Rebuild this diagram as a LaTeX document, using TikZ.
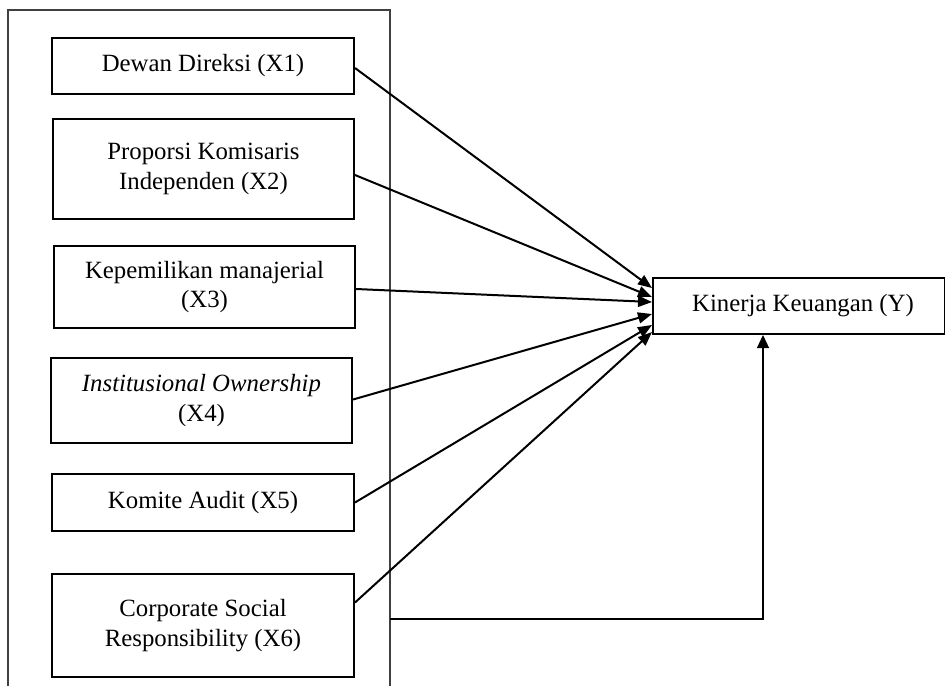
\documentclass[tikz,border=0pt]{standalone}
\usepackage{fontspec}
\setmainfont{Liberation Serif}
\usetikzlibrary{arrows.meta}
\tikzset{
  varbox/.style={draw, line width=2pt, align=center, inner sep=0pt,
    font=\fontsize{24.8pt}{29.5pt}\selectfont},
  conn/.style={line width=2pt, -{Triangle[length=14pt,width=11pt]}},
  frameline/.style={line width=1.2pt, draw=black!75},
}
\begin{document}
\begin{tikzpicture}[x=1pt,y=-1pt]
\useasboundingbox (0,0) rectangle (945,686);
% outer frame (open at bottom)
\draw[frameline] (8,686) -- (8,10) -- (390,10) -- (390,686);
\coordinate (fr) at (390,619);

\node[varbox, minimum width=302pt, minimum height=56pt]  (b1) at (203,66)    {Dewan Direksi (X1)};
\node[varbox, minimum width=301pt, minimum height=100pt] (b2) at (203.5,169) {Proporsi Komisaris\\Independen (X2)};
\node[varbox, minimum width=301pt, minimum height=82pt]  (b3) at (204.5,287) {Kepemilikan manajerial\\(X3)};
\node[varbox, minimum width=301pt, minimum height=85pt]  (b4) at (201.5,400.5) {\textit{Institusional Ownership}\\(X4)};
\node[varbox, minimum width=302pt, minimum height=57pt]  (b5) at (203,502.5) {Komite Audit (X5)};
\node[varbox, minimum width=302pt, minimum height=103pt] (b6) at (203,625.5) {Corporate Social\\Responsibility (X6)};
\node[varbox, minimum width=292pt, minimum height=56pt]  (y)  at (799,306)   {\hspace*{8pt}Kinerja Keuangan (Y)};

\draw[conn] ([yshift=-2pt]b1.east) -- ([yshift=18pt]y.west);
\draw[conn] ([yshift=-6pt]b2.east) -- ([yshift=9pt]y.west);
\draw[conn] ([yshift=-2pt]b3.east) -- ([yshift=4pt]y.west);
\draw[conn] ([yshift=1pt]b4.east)  -- ([yshift=-8pt]y.west);
\draw[conn] (b5.east)              -- ([yshift=-19pt]y.west);
\draw[conn] ([yshift=23pt]b6.east) -- ([yshift=-26pt]y.west);

\draw[line width=1.2pt, -{Triangle[length=13pt,width=12pt]}] (fr) -| ([xshift=-36pt]y.south);
\end{tikzpicture}
\end{document}
